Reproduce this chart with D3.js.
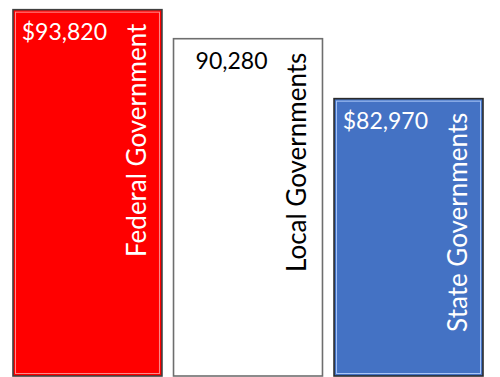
<!DOCTYPE html>
<html>
<head>
<meta charset="utf-8">
<script src="https://cdn.jsdelivr.net/npm/d3@7"></script>
<style>
  html, body { margin: 0; padding: 0; background: #fff; }
  svg { display: block; }
  text { font-family: Lato, "Open Sans", sans-serif; }
</style>
</head>
<body>
<svg id="chart" width="500" height="377"></svg>
<script>
const categories = ["Federal Government", "Local Governments", "State Governments"];
const values = [93820, 90280, 82970];
const valueLabels = ["$93,820", "90,280", "$82,970"];
const fills = ["#ff0000", "#ffffff", "#4472c4"];
const borders = ["#3f3f3f", "#6e6e6e", "#2b2b2b"];
const highlights = ["#ff8a8a", "#ffffff", "#a9c6f7"];
const textColors = ["#ffffff", "#000000", "#ffffff"];

const W = 500, H = 377;
const svg = d3.select("#chart");

const x = d3.scaleBand().domain(categories).range([13, 483]).paddingInner(0.072).paddingOuter(0);
const y = d3.scaleLinear().domain([80000, 95000]).range([123, 0]);
const bottom = 376;

const data = categories.map((c, i) => ({
  cat: c, v: values[i], label: valueLabels[i],
  fill: fills[i], border: borders[i], hi: highlights[i], tc: textColors[i]
}));

const g = svg.selectAll("g.bar").data(data).enter().append("g").attr("class", "bar");

g.append("rect")
  .attr("x", d => x(d.cat))
  .attr("y", d => y(d.v))
  .attr("width", x.bandwidth())
  .attr("height", d => bottom - y(d.v))
  .attr("fill", d => d.fill)
  .attr("stroke", d => d.border)
  .attr("stroke-width", 1.6);

g.append("rect")
  .attr("x", d => x(d.cat) + 2.5)
  .attr("y", d => y(d.v) + 2.5)
  .attr("width", x.bandwidth() - 5)
  .attr("height", d => bottom - y(d.v) - 5)
  .attr("fill", "none")
  .attr("stroke", d => d.hi)
  .attr("stroke-width", 1);

g.append("text")
  .attr("x", d => x(d.cat) + 94)
  .attr("y", d => y(d.v) + 30)
  .attr("text-anchor", "end")
  .attr("font-size", 23)
  .attr("fill", d => d.tc)
  .text(d => d.label);

g.append("text")
  .attr("transform", d => `translate(${x(d.cat) + x.bandwidth() - 16},${y(d.v) + 14}) rotate(-90)`)
  .attr("text-anchor", "end")
  .attr("font-size", 26)
  .attr("fill", d => d.tc)
  .text(d => d.cat);
</script>
</body>
</html>
